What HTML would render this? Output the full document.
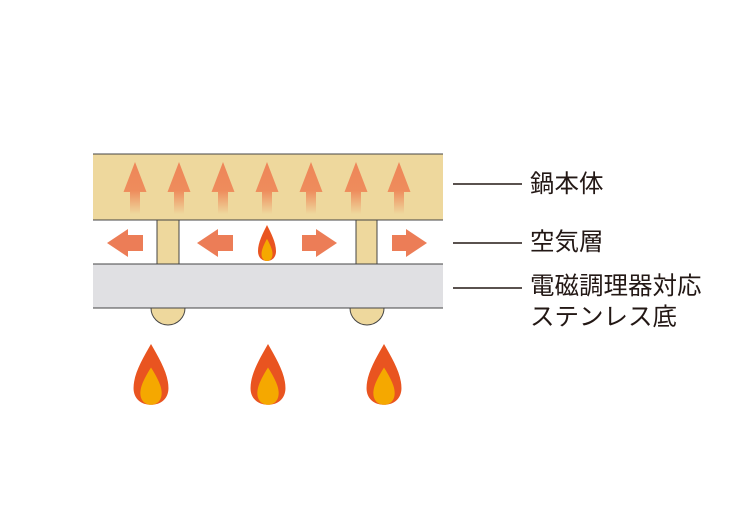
<!DOCTYPE html>
<html><head><meta charset="utf-8"><style>
body{margin:0;background:#fff;width:750px;height:530px;overflow:hidden}
.t{position:absolute;left:530px;font-family:"Liberation Sans","Noto Sans CJK JP",sans-serif;font-size:24.5px;color:#231815;line-height:31px;white-space:nowrap}
</style></head><body>
<svg width="750" height="530" style="position:absolute;left:0;top:0">
<defs>
<linearGradient id="g" x1="0" y1="0" x2="0" y2="1">
<stop offset="0" stop-color="#ee8658"/><stop offset="0.55" stop-color="#ee8c5c"/><stop offset="1" stop-color="#ee8c5c" stop-opacity="0"/>
</linearGradient>
<g id="up"><path d="M0,162 L11.5,192 L5,192 L5,214 L-5,214 L-5,192 L-11.5,192 Z" fill="url(#g)"/></g>
<g id="fl"><path d="M0,0 C8,14 18,30 18,45 C18,56 10,62 0,62 C-10,62 -18,56 -18,45 C-18,30 -8,14 0,0Z" fill="#e95420"/>
<path d="M0,24 C5,32 11,42 11,50 C11,58 6,62 0,62 C-6,62 -11,58 -11,50 C-11,42 -5,32 0,24Z" fill="#f5a800"/></g>
</defs>
<rect x="93" y="154" width="350" height="66" fill="#eed89d"/>
<rect x="93" y="264" width="350" height="44" fill="#e0e0e3"/>
<rect x="157" y="220" width="22" height="44" fill="#eed89d" stroke="#444" stroke-width="1"/>
<rect x="356" y="220" width="21" height="44" fill="#eed89d" stroke="#444" stroke-width="1"/>
<g stroke="#444" stroke-width="1">
<line x1="93" y1="154" x2="443" y2="154"/><line x1="93" y1="220" x2="443" y2="220"/>
<line x1="93" y1="264" x2="443" y2="264"/><line x1="93" y1="308" x2="443" y2="308"/>
</g>
<path d="M151,308 A17,17 0 0 0 185,308 Z" fill="#eed89d" stroke="#444" stroke-width="1"/>
<path d="M350,308 A17,17 0 0 0 384,308 Z" fill="#eed89d" stroke="#444" stroke-width="1"/>
<use href="#up" x="135"/><use href="#up" x="179"/><use href="#up" x="223"/><use href="#up" x="267"/><use href="#up" x="311"/><use href="#up" x="356"/><use href="#up" x="399"/>
<g fill="#ec7d57">
<path d="M107,243 L128,229 L128,235 L143,235 L143,251 L128,251 L128,257Z"/>
<path d="M197,243 L218,229 L218,235 L233,235 L233,251 L218,251 L218,257Z"/>
<path d="M337,243 L316,229 L316,235 L302,235 L302,251 L316,251 L316,257Z"/>
<path d="M427,243 L406,229 L406,235 L392,235 L392,251 L406,251 L406,257Z"/>
</g>
<use href="#fl" transform="translate(267,225) scale(0.5,0.58)"/>
<use href="#fl" transform="translate(151,344) scale(0.97,0.98)"/>
<use href="#fl" transform="translate(268,344) scale(0.97,0.98)"/>
<use href="#fl" transform="translate(384,344) scale(0.97,0.98)"/>
<g stroke="#231815" stroke-width="1.5">
<line x1="453" y1="184" x2="522" y2="184"/>
<line x1="453" y1="243" x2="522" y2="243"/>
<line x1="453" y1="288" x2="522" y2="288"/>
</g>
</svg>
<div class="t" style="top:169px">鍋本体</div>
<div class="t" style="top:227px">空気層</div>
<div class="t" style="top:271px">電磁調理器対応<br>ステンレス底</div>
</body></html>
